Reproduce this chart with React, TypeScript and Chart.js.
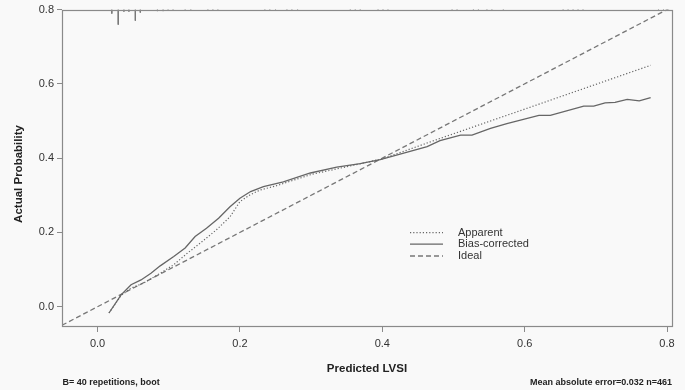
import React, { useEffect, useRef } from 'react';
import { Chart, registerables } from 'chart.js';

Chart.register(...registerables);

// ---- data ----
const xTicks = [0, 0.2, 0.4, 0.6, 0.8];
const yTicks = [0, 0.2, 0.4, 0.6, 0.8];

const apparentX = [0.016, 0.033, 0.047, 0.065, 0.088, 0.107, 0.126, 0.144, 0.167, 0.186, 0.2, 0.214, 0.228, 0.25, 0.3, 0.35, 0.4, 0.481, 0.6, 0.777];
const apparentY = [-0.017, 0.03, 0.05, 0.064, 0.09, 0.113, 0.144, 0.171, 0.207, 0.242, 0.283, 0.301, 0.314, 0.325, 0.356, 0.377, 0.398, 0.453, 0.532, 0.65];

const biasX = [0.016, 0.033, 0.047, 0.061, 0.075, 0.088, 0.107, 0.123, 0.137, 0.153, 0.17, 0.186, 0.2, 0.215, 0.233, 0.261, 0.299, 0.336, 0.369, 0.397, 0.425, 0.463, 0.481, 0.51, 0.526, 0.552, 0.575, 0.62, 0.636, 0.683, 0.697, 0.713, 0.727, 0.744, 0.761, 0.777];
const biasY = [-0.017, 0.032, 0.059, 0.072, 0.09, 0.11, 0.135, 0.158, 0.189, 0.211, 0.238, 0.269, 0.292, 0.31, 0.323, 0.336, 0.36, 0.376, 0.385, 0.396, 0.411, 0.431, 0.447, 0.462, 0.462, 0.48, 0.493, 0.515, 0.515, 0.54, 0.54, 0.549, 0.55, 0.558, 0.554, 0.563];

const idealX = [-0.06, 0.81];
const idealY = [-0.06, 0.81];

// rug of predicted values along the top (relative frequency)
const rugX = [0.02, 0.029, 0.037, 0.044, 0.053, 0.06, 0.084, 0.092, 0.099, 0.106, 0.123, 0.131, 0.155, 0.162, 0.169, 0.235, 0.242, 0.25, 0.266, 0.273, 0.281, 0.355, 0.362, 0.369, 0.394, 0.401, 0.408, 0.498, 0.505, 0.528, 0.535, 0.547, 0.554, 0.57, 0.654, 0.661, 0.668, 0.675, 0.682, 0.788, 0.795];
const rugFreq = [4, 15, 2, 2, 11, 3, 1.5, 1.5, 1, 1, 1, 1, 1, 1, 1, 1, 1, 1, 1, 1, 1, 1, 1, 1, 1, 1, 1, 1, 1, 1, 1, 1, 1, 1, 1, 1, 1, 1, 1, 1, 1];

const legendLabels = ['Apparent', 'Bias-corrected', 'Ideal'];
const xTitle = 'Predicted LVSI';
const yTitle = 'Actual Probability';
const noteLeft = 'B= 40 repetitions, boot';
const noteRight = 'Mean absolute error=0.032 n=461';

const X_MIN = -0.05;
const X_MAX = 0.807;
const Y_MIN = -0.052;
const Y_MAX = 0.8;
const RUG_UNIT = 0.0027;

const FONT = "'Liberation Sans', Arial, sans-serif";
const AXIS = '#8a8a8a';

function pts(xs: number[], ys: number[]) {
  return xs.map((x, i) => ({ x, y: ys[i] }));
}

function rugPoints() {
  const out: { x: number; y: number | null }[] = [];
  rugX.forEach((x, i) => {
    out.push({ x, y: Y_MAX });
    out.push({ x, y: Y_MAX - rugFreq[i] * RUG_UNIT });
    out.push({ x, y: null });
  });
  return out;
}

const decorPlugin = {
  id: 'decor',
  beforeDraw(chart: any) {
    const { ctx, width, height } = chart;
    ctx.save();
    ctx.fillStyle = '#f9f9f9';
    ctx.fillRect(0, 0, width, height);
    ctx.restore();
  },
  afterDraw(chart: any) {
    const { ctx, chartArea } = chart;
    const { left, right, top, bottom } = chartArea;
    ctx.save();
    // box
    ctx.strokeStyle = AXIS;
    ctx.lineWidth = 1.2;
    ctx.strokeRect(Math.round(left) + 0.5, Math.round(top) + 0.5, Math.round(right - left), Math.round(bottom - top));

    // legend
    const ds = chart.data.datasets;
    const items = [0, 1, 2];
    const ys = [232.7, 244.2, 256];
    items.forEach((di, k) => {
      const d = ds[di];
      ctx.beginPath();
      ctx.strokeStyle = d.borderColor;
      ctx.lineWidth = d.borderWidth;
      ctx.setLineDash(d.borderDash || []);
      ctx.moveTo(410, ys[k]);
      ctx.lineTo(443, ys[k]);
      ctx.stroke();
      ctx.setLineDash([]);
      ctx.fillStyle = '#333';
      ctx.font = `11px ${FONT}`;
      ctx.textAlign = 'left';
      ctx.textBaseline = 'middle';
      ctx.fillText(legendLabels[k], 458, ys[k]);
    });

    // axis titles
    ctx.fillStyle = '#222';
    ctx.font = `bold 11.5px ${FONT}`;
    ctx.textAlign = 'center';
    ctx.textBaseline = 'middle';
    ctx.fillText(xTitle, 367, 369);
    ctx.save();
    ctx.translate(18.5, 174);
    ctx.rotate(-Math.PI / 2);
    ctx.fillText(yTitle, 0, 0);
    ctx.restore();

    // notes
    ctx.font = `bold 9px 'Liberation Sans Narrow', ${FONT}`;
    ctx.textAlign = 'left';
    ctx.fillText(noteLeft, 62.5, 382.5);
    ctx.textAlign = 'right';
    ctx.fillText(noteRight, 672, 382.5);
    ctx.restore();
  },
};

export default function App() {
  const ref = useRef<HTMLCanvasElement>(null);

  useEffect(() => {
    if (!ref.current) return;
    const chart = new Chart(ref.current, {
      type: 'scatter',
      data: {
        datasets: [
          {
            label: legendLabels[0],
            data: pts(apparentX, apparentY),
            showLine: true,
            borderColor: '#666',
            borderWidth: 1.2,
            borderDash: [1.2, 2],
            pointRadius: 0,
            tension: 0,
          },
          {
            label: legendLabels[1],
            data: pts(biasX, biasY),
            showLine: true,
            borderColor: '#666',
            borderWidth: 1.3,
            pointRadius: 0,
            tension: 0,
          },
          {
            label: legendLabels[2],
            data: pts(idealX, idealY),
            showLine: true,
            borderColor: '#777',
            borderWidth: 1.3,
            borderDash: [5, 3],
            pointRadius: 0,
            tension: 0,
          },
          {
            label: 'rug',
            data: rugPoints(),
            showLine: true,
            spanGaps: false,
            borderColor: '#777',
            borderWidth: 1,
            pointRadius: 0,
            tension: 0,
          },
        ] as any,
      },
      options: {
        animation: false,
        responsive: false,
        devicePixelRatio: 1,
        layout: { padding: { top: 9, right: 13, left: 0, bottom: 0 } },
        plugins: { legend: { display: false }, tooltip: { enabled: false } },
        scales: {
          x: {
            type: 'linear',
            min: X_MIN,
            max: X_MAX,
            afterBuildTicks: (s: any) => {
              s.ticks = xTicks.map((v) => ({ value: v }));
            },
            afterFit: (s: any) => {
              s.height = 64;
            },
            border: { display: false },
            grid: { drawOnChartArea: false, drawTicks: true, tickLength: 6, color: AXIS, lineWidth: 1 },
            ticks: {
              color: '#333',
              font: { family: FONT, size: 11 },
              padding: 5,
              maxRotation: 0,
              autoSkip: false,
              callback: (v: any) => Number(v).toFixed(1),
            },
          },
          y: {
            type: 'linear',
            min: Y_MIN,
            max: Y_MAX,
            afterBuildTicks: (s: any) => {
              s.ticks = yTicks.map((v) => ({ value: v }));
            },
            afterFit: (s: any) => {
              s.width = 62;
            },
            border: { display: false },
            grid: { drawOnChartArea: false, drawTicks: true, tickLength: 5, color: AXIS, lineWidth: 1 },
            ticks: {
              color: '#333',
              font: { family: FONT, size: 11 },
              padding: 3,
              autoSkip: false,
              callback: (v: any) => Number(v).toFixed(1),
            },
          },
        },
      } as any,
      plugins: [decorPlugin],
    });
    return () => chart.destroy();
  }, []);

  return (
    <div style={{ position: 'fixed', left: 0, top: 0, width: 685, height: 390 }}>
      <canvas ref={ref} width={685} height={390} style={{ display: 'block', width: 685, height: 390 }} />
    </div>
  );
}
